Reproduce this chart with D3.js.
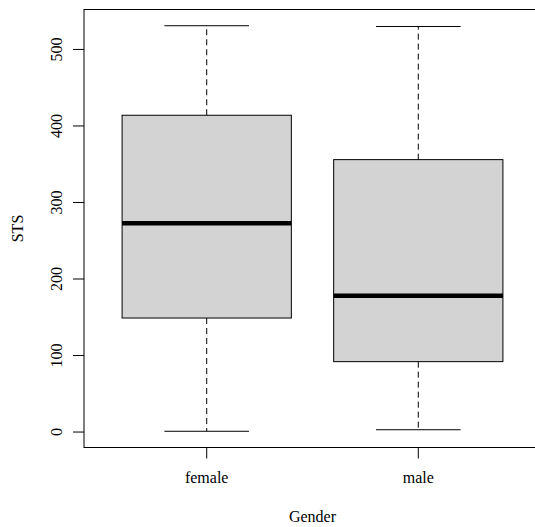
<!DOCTYPE html>
<html>
<head>
<meta charset="utf-8">
<script src="https://cdn.jsdelivr.net/npm/d3@7.9.0/dist/d3.min.js"></script>
<style>
  body { margin: 0; background: #fff; }
  svg { display: block; }
</style>
</head>
<body>
<div id="chart"></div>
<script>
const groups = ['female', 'male'];
const lowWhisker = [1, 3];
const lowerQuartile = [149, 92];
const medians = [273, 178];
const upperQuartile = [414, 356];
const highWhisker = [531, 530];
const yTicks = [0, 100, 200, 300, 400, 500];

const width = 535, height = 527;
// plot region as in R's default par(mar); the right edge runs past the picture
const plotLeft = 84, plotRight = 541, plotTop = 9.5, plotBottom = 447.5;

const svg = d3.select('#chart')
  .append('svg')
  .attr('width', width)
  .attr('height', height)
  .attr('font-family', 'Liberation Serif')
  .attr('font-size', 16);

const lo = d3.min(lowWhisker), hi = d3.max(highWhisker);
const pad = (hi - lo) * 0.04;
const y = d3.scaleLinear().domain([lo - pad, hi + pad]).range([plotBottom, plotTop]);
const x = d3.scaleLinear().domain([0.42, 2.58]).range([plotLeft, plotRight]);

const boxes = groups.map((g, i) => ({
  name: g, pos: i + 1,
  low: lowWhisker[i], q1: lowerQuartile[i], med: medians[i],
  q3: upperQuartile[i], high: highWhisker[i]
}));

const g = svg.append('g');

// whiskers
g.selectAll('.whisk-up').data(boxes).enter().append('line')
  .attr('x1', d => x(d.pos)).attr('x2', d => x(d.pos))
  .attr('y1', d => y(d.q3)).attr('y2', d => y(d.high))
  .attr('stroke', '#000').attr('stroke-dasharray', '6,4');
g.selectAll('.whisk-down').data(boxes).enter().append('line')
  .attr('x1', d => x(d.pos)).attr('x2', d => x(d.pos))
  .attr('y1', d => y(d.q1)).attr('y2', d => y(d.low))
  .attr('stroke', '#000').attr('stroke-dasharray', '6,4');

// caps
['high', 'low'].forEach(k => {
  g.selectAll('.cap-' + k).data(boxes).enter().append('line')
    .attr('x1', d => x(d.pos - 0.2)).attr('x2', d => x(d.pos + 0.2))
    .attr('y1', d => y(d[k])).attr('y2', d => y(d[k]))
    .attr('stroke', '#000');
});

// boxes
g.selectAll('rect').data(boxes).enter().append('rect')
  .attr('x', d => x(d.pos - 0.4))
  .attr('width', d => x(d.pos + 0.4) - x(d.pos - 0.4))
  .attr('y', d => y(d.q3))
  .attr('height', d => y(d.q1) - y(d.q3))
  .attr('fill', '#d3d3d3').attr('stroke', '#000');

// medians
g.selectAll('.median').data(boxes).enter().append('line')
  .attr('x1', d => x(d.pos - 0.4)).attr('x2', d => x(d.pos + 0.4))
  .attr('y1', d => y(d.med)).attr('y2', d => y(d.med))
  .attr('stroke', '#000').attr('stroke-width', 4.5);

// frame
svg.append('rect')
  .attr('x', plotLeft).attr('y', plotTop)
  .attr('width', plotRight - plotLeft).attr('height', plotBottom - plotTop)
  .attr('fill', 'none').attr('stroke', '#000');

// y axis
const yAxis = svg.append('g');
yAxis.selectAll('line').data(yTicks).enter().append('line')
  .attr('x1', plotLeft - 11).attr('x2', plotLeft)
  .attr('y1', d => y(d)).attr('y2', d => y(d))
  .attr('stroke', '#000');
yAxis.selectAll('text').data(yTicks).enter().append('text')
  .attr('transform', d => `translate(62,${y(d)}) rotate(-90)`)
  .attr('text-anchor', 'middle')
  .text(d => d);

// x axis
const xAxis = svg.append('g');
xAxis.selectAll('line').data(boxes).enter().append('line')
  .attr('x1', d => x(d.pos)).attr('x2', d => x(d.pos))
  .attr('y1', plotBottom).attr('y2', plotBottom + 11)
  .attr('stroke', '#000');
xAxis.selectAll('text').data(boxes).enter().append('text')
  .attr('x', d => x(d.pos)).attr('y', 483)
  .attr('text-anchor', 'middle')
  .text(d => d.name);

svg.append('text')
  .attr('x', (plotLeft + plotRight) / 2).attr('y', 522)
  .attr('text-anchor', 'middle')
  .text('Gender');

svg.append('text')
  .attr('transform', `translate(23,${(plotTop + plotBottom) / 2}) rotate(-90)`)
  .attr('text-anchor', 'middle')
  .text('STS');
</script>
</body>
</html>
